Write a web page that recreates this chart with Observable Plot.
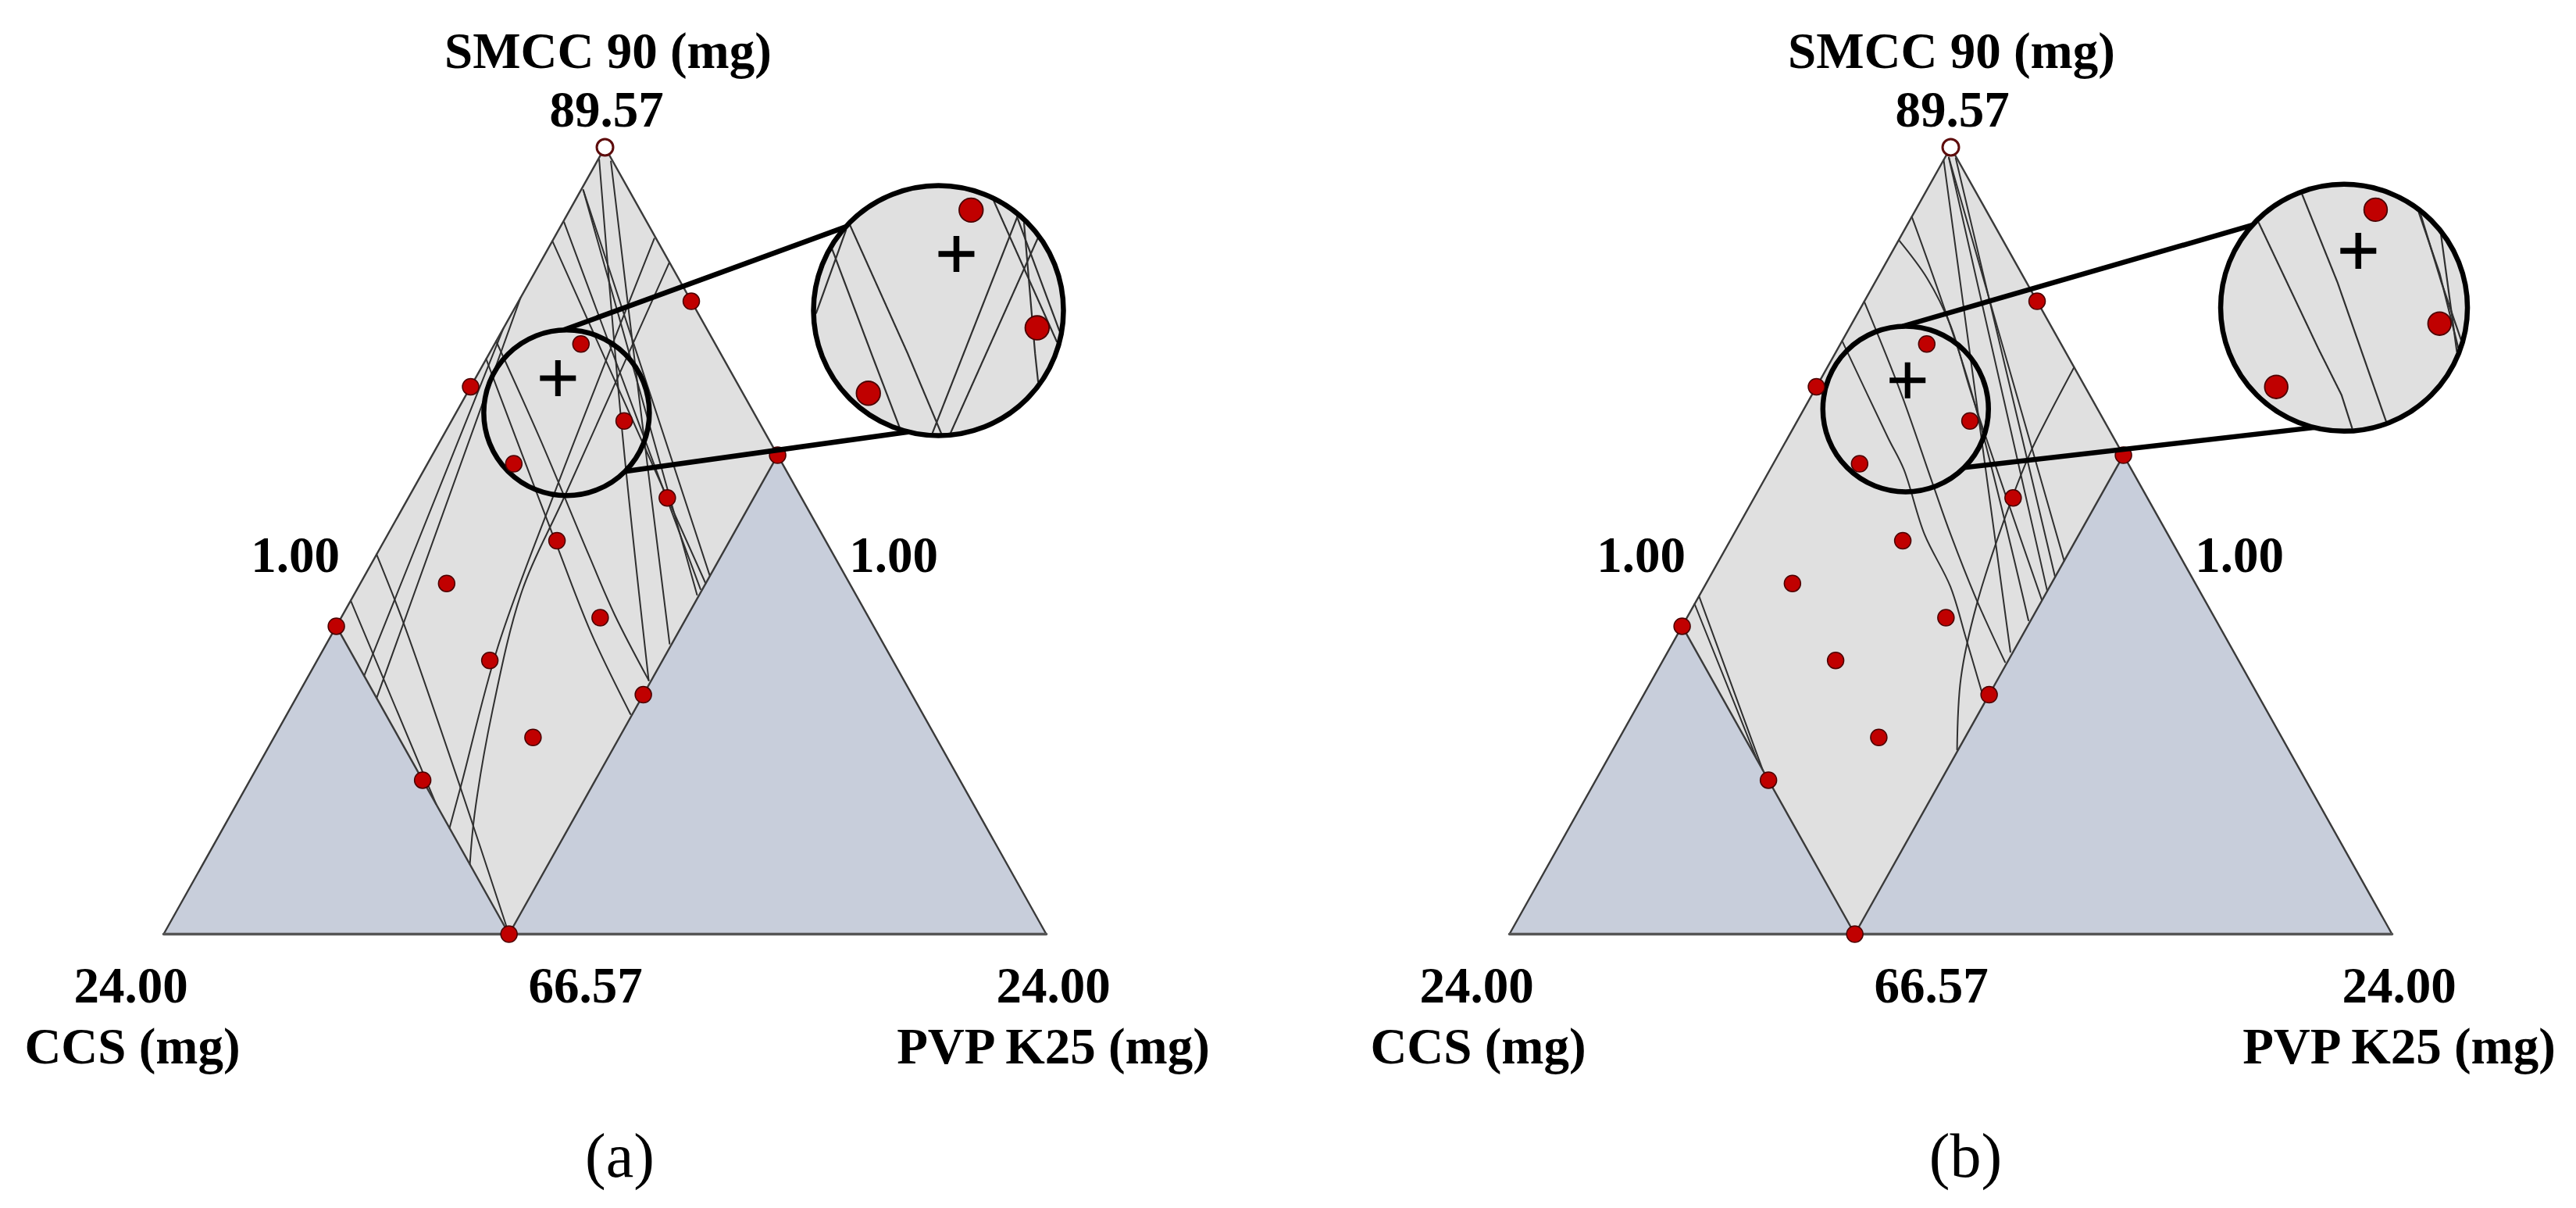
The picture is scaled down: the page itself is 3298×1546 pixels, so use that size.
<!DOCTYPE html>
<html>
<head>
<meta charset="utf-8">
<script src="https://cdn.jsdelivr.net/npm/d3@7"></script>
<script src="https://cdn.jsdelivr.net/npm/@observablehq/plot@0.6"></script>
<style>
  body { margin: 0; background: #fff; }
  #wrap { display: flex; width: 3298px; height: 1546px; overflow: hidden; }
  #wrap svg { flex: none; }
</style>
</head>
<body>
<div id="wrap"></div>
<script>
// ---------------- DATA ----------------
const componentNames = ["SMCC 90 (mg)", "CCS (mg)", "PVP K25 (mg)"];
const mixtureTotal = 91.57;
const smccRange = [66.57, 89.57];
const ccsRange = [1, 24];
const pvpRange = [1, 24];
const ccsUpper = 15;   // constraint CCS <= 15
const pvpUpper = 10;   // constraint PVP K25 <= 10
const panelLabels = ["(a)", "(b)"];

// design points (CCS mg, PVP K25 mg); SMCC = total - CCS - PVP
const designCCS = [1, 1, 1, 4.5, 4.5, 4.5, 8, 8, 8, 8, 8, 11.5, 11.5, 11.5, 15, 15, 15];
const designPVP = [1, 5.5, 10, 3.25, 5.5, 7.75, 1, 3.25, 5.5, 7.75, 10, 3.25, 5.5, 7.75, 1, 5.5, 10];

// optimum (+) (CCS, PVP) and its position as shown in the magnified inset
const optimumA = [5.6, 3.15];
const optimumB = [5.53, 3.28];
const insetOptimumA = [5.17, 3.42];
const insetOptimumB = [5.21, 3.35];
// centre of the magnified region (CCS, PVP)
const zoomCenterA = [5.88, 3.88];
const zoomCenterB = [6.0, 3.65];

// overlaid response contours, each a list of [CCS, PVP] points (panel a)
const contoursA = [
  [[12.9, 1], [13.2, 2.7], [14.1, 6.5], [15, 10]],
  [[14.25, 1], [15, 6.2]],
  [[6.3, 1], [15, 2.45]],
  [[5.4, 1], [15, 3.1]],
  [[1.05, 3.62], [7.28, 4.72], [11.09, 5.51], [14.0, 6.55], [15, 6.9]],
  [[1, 4.36], [7.16, 5.05], [9.63, 5.32], [12.16, 6.3], [14.16, 7.36], [15, 7.96]],
  [[6.67, 1], [6.95, 3.54], [7.38, 6.54], [7.58, 8.1], [7.65, 9.93]],
  [[7.19, 1], [7.57, 2.93], [8.08, 5.61], [8.46, 7.75], [8.62, 9.95]],
  [[1.33, 1.03], [4.78, 5.71], [7.65, 9.93]],
  [[1.05, 1.36], [3.8, 5.6], [6.57, 9.94]],
  [[2.19, 1.06], [3.91, 6.25], [5.14, 9.94]],
  [[3.16, 1.03], [4.97, 9.95]],
  [[3.74, 1.0], [4.75, 10]],
  [[2.19, 1.06], [4.53, 10]]
];
// panel b
const contoursB = [
  [[14.12, 1], [15, 5.2]],
  [[14.35, 1], [15, 4.9]],
  [[6.66, 1], [6.88, 3.61], [6.93, 4.48], [7.34, 5.97], [7.43, 7.41], [7.78, 8.58], [8.18, 9.86]],
  [[5.51, 1], [5.89, 3.3], [6.38, 5.41], [6.66, 6.65], [6.94, 8.28], [7.11, 9.94]],
  [[3.71, 1], [3.53, 2.3], [3.61, 3.6], [4.06, 5.13], [5.24, 9.98]],
  [[3.03, 1], [4.0, 5], [5.89, 9.94]],
  [[1.37, 1], [6.82, 9.93]],
  [[1.03, 1.29], [4.56, 10]],
  [[1.2, 1.1], [4.09, 10]],
  [[1.2, 1.1], [4.97, 10]],
  [[1, 7.43], [2.33, 7.47], [3.34, 7.53], [4.65, 7.75], [7.01, 8.36], [8.49, 9.02], [9.64, 9.97]]
];

// ---------------- LAYOUT / STYLE ----------------
const PW = 1649, PH = 1546, TRI_W = 1130, TOP = 188, BASE = 1195, TRI_H = BASE - TOP;
const font = "'Liberation Serif', 'Times New Roman', serif";
const col = {
  infeasible: "#c8cedb", feasible: "#e0e0e0", contour: "#2f2f2f", edge: "#3a3a3a",
  dot: "#c00000", dotStroke: "#4a0000", open: "#5e0c0c"
};
const panelsLayout = [
  {marginLeft: 209, big: {u: 0.8779, a: 0.7925, r: 160}, content: {u: 0.8899, a: 0.7865}, k: 1.53, smallR: 106, titleDx: 4},
  {marginLeft: 283, big: {u: 0.9456, a: 0.7961, r: 158}, content: {u: 0.946, a: 0.7984}, k: 1.48, smallR: 106, titleDx: 1}
];
const connectorAngles = [[-92, -138], [45, 104]]; // [small circle angle, big circle angle] in degrees

// ---------------- HELPERS ----------------
const span = mixtureTotal - smccRange[0] - ccsRange[0] - pvpRange[0]; // 23
function ua(ccs, pvp) {
  const c = (ccs - ccsRange[0]) / span, p = (pvp - pvpRange[0]) / span, a = 1 - c - p;
  return {u: p + a / 2, a};
}
const plusSymbol = {
  draw(ctx, size) {
    const r = Math.sqrt(size / Math.PI);
    ctx.moveTo(-r, 0); ctx.lineTo(r, 0);
    ctx.moveTo(0, -r); ctx.lineTo(0, r);
  }
};

function buildPanel(idx, contours, optimum, insetOptimum, zoomCenter) {
  const L = panelsLayout[idx];
  const zc = ua(...zoomCenter);
  const map = q => ({u: L.content.u + L.k * (q.u - zc.u), a: L.content.a + L.k * (q.a - zc.a)});
  const distBig = q => Math.hypot((q.u - L.big.u) * TRI_W, (q.a - L.big.a) * TRI_H);

  const apex = ua(ccsRange[0], pvpRange[0]);
  const bl = ua(ccsRange[1], pvpRange[0]);
  const br = ua(ccsRange[0], pvpRange[1]);
  const leftC = ua(ccsUpper, pvpRange[0]);
  const bottomC = ua(ccsUpper, pvpUpper);
  const rightC = ua(ccsRange[0], pvpUpper);

  const contourRows = [];
  contours.forEach((line, i) => line.forEach(([c, p]) => contourRows.push({...ua(c, p), id: i})));

  // magnified inset contours (clipped to the big circle)
  const insetRows = [];
  let run = 0;
  contours.forEach(line => {
    let open = false;
    for (let s = 0; s < line.length - 1; s++) {
      const q0 = map(ua(...line[s])), q1 = map(ua(...line[s + 1]));
      const len = Math.hypot((q1.u - q0.u) * TRI_W, (q1.a - q0.a) * TRI_H);
      const n = Math.max(2, Math.ceil(len / 1.2));
      for (let j = (s === 0 ? 0 : 1); j <= n; j++) {
        const t = j / n;
        const q = {u: q0.u + t * (q1.u - q0.u), a: q0.a + t * (q1.a - q0.a)};
        if (distBig(q) <= L.big.r - 3) {
          if (!open) { run++; open = true; }
          insetRows.push({...q, id: run});
        } else open = false;
      }
    }
  });

  const pts = designCCS.map((c, i) => ({...ua(c, designPVP[i]), open: c === ccsRange[0] && designPVP[i] === pvpRange[0]}));
  const filled = pts.filter(d => !d.open);
  const openPts = pts.filter(d => d.open);
  const insetDotR = 10 * L.k;
  const insetPts = filled.map(map).filter(q => distBig(q) <= L.big.r - insetDotR - 2);

  const deg = Math.PI / 180;
  const onCircle = (c, r, ang) => ({u: c.u + r * Math.cos(ang * deg) / TRI_W, a: c.a - r * Math.sin(ang * deg) / TRI_H});
  const links = connectorAngles.map(([as, ab]) => {
    const s = onCircle(zc, L.smallR, as), b = onCircle(L.big, L.big.r, ab);
    return {u1: s.u, a1: s.a, u2: b.u, a2: b.a};
  });

  const fmt = v => v.toFixed(2);
  const mid = (p, q) => ({u: (p.u + q.u) / 2, a: (p.a + q.a) / 2});
  const labels = [
    {pos: apex, text: componentNames[0], dx: L.titleDx, dy: -102},
    {pos: apex, text: fmt(smccRange[1]), dx: 2, dy: -27},
    {pos: bl, text: fmt(ccsRange[1]), dx: -42, dy: 87},
    {pos: bl, text: componentNames[1], dx: -40, dy: 165},
    {pos: br, text: fmt(pvpRange[1]), dx: 9, dy: 87},
    {pos: br, text: componentNames[2], dx: 9, dy: 165},
    {pos: mid(bl, br), text: fmt(smccRange[0]), dx: -25, dy: 87},
    {pos: mid(bl, apex), text: fmt(pvpRange[0]), dx: -114, dy: 40},
    {pos: mid(br, apex), text: fmt(ccsRange[0]), dx: 87, dy: 40}
  ];

  const marks = [
    Plot.line([apex, br, bl, apex], {x: "u", y: "a", fill: col.infeasible, stroke: "none"}),
    Plot.line([apex, rightC, bottomC, leftC, apex], {x: "u", y: "a", fill: col.feasible, stroke: "none"}),
    Plot.line(contourRows, {x: "u", y: "a", z: "id", stroke: col.contour, strokeWidth: 2, curve: "catmull-rom"}),
    Plot.line([leftC, bottomC, rightC], {x: "u", y: "a", stroke: col.edge, strokeWidth: 2.4}),
    Plot.line([bl, apex, br], {x: "u", y: "a", stroke: col.edge, strokeWidth: 2.4}),
    Plot.line([bl, br], {x: "u", y: "a", stroke: "#555", strokeWidth: 3.5}),
    Plot.dot([zc], {x: "u", y: "a", r: L.smallR, fill: "none", stroke: "black", strokeWidth: 6.5}),
    Plot.dot(filled, {x: "u", y: "a", r: 10.5, fill: col.dot, stroke: col.dotStroke, strokeWidth: 1.5}),
    Plot.dot(openPts, {x: "u", y: "a", r: 10.5, fill: "white", stroke: col.open, strokeWidth: 3}),
    Plot.dot([ua(...optimum)], {x: "u", y: "a", r: 23, symbol: plusSymbol, fill: "none", stroke: "black", strokeWidth: 7}),
    Plot.link(links, {x1: "u1", y1: "a1", x2: "u2", y2: "a2", stroke: "black", strokeWidth: 6.5}),
    Plot.dot([L.big], {x: "u", y: "a", r: L.big.r, fill: col.feasible, stroke: "none"}),
    Plot.line(insetRows, {x: "u", y: "a", z: "id", stroke: col.contour, strokeWidth: 2.2}),
    Plot.dot(insetPts, {x: "u", y: "a", r: insetDotR, fill: col.dot, stroke: col.dotStroke, strokeWidth: 1.8}),
    Plot.dot([map(ua(...insetOptimum))], {x: "u", y: "a", r: 23, symbol: plusSymbol, fill: "none", stroke: "black", strokeWidth: 7.5}),
    Plot.dot([L.big], {x: "u", y: "a", r: L.big.r, fill: "none", stroke: "black", strokeWidth: 6.5}),
    ...labels.map(l => Plot.text([l.pos], {x: "u", y: "a", text: () => l.text, dx: l.dx, dy: l.dy,
      fontSize: 65, fontWeight: "bold", fontFamily: font, fill: "black", lineAnchor: "bottom", textAnchor: "middle"})),
    Plot.text([mid(bl, br)], {x: "u", y: "a", text: () => panelLabels[idx], dx: 19, dy: 310,
      fontSize: 80, fontFamily: font, fill: "black", lineAnchor: "bottom", textAnchor: "middle"})
  ];

  return Plot.plot({
    width: PW, height: PH,
    marginLeft: L.marginLeft, marginRight: PW - L.marginLeft - TRI_W,
    marginTop: TOP, marginBottom: PH - BASE,
    x: {domain: [0, 1], axis: null},
    y: {domain: [0, 1], axis: null},
    style: {background: "white", fontFamily: font, overflow: "visible"},
    marks
  });
}

const wrap = document.getElementById("wrap");
wrap.appendChild(buildPanel(0, contoursA, optimumA, insetOptimumA, zoomCenterA));
wrap.appendChild(buildPanel(1, contoursB, optimumB, insetOptimumB, zoomCenterB));
</script>
</body>
</html>
